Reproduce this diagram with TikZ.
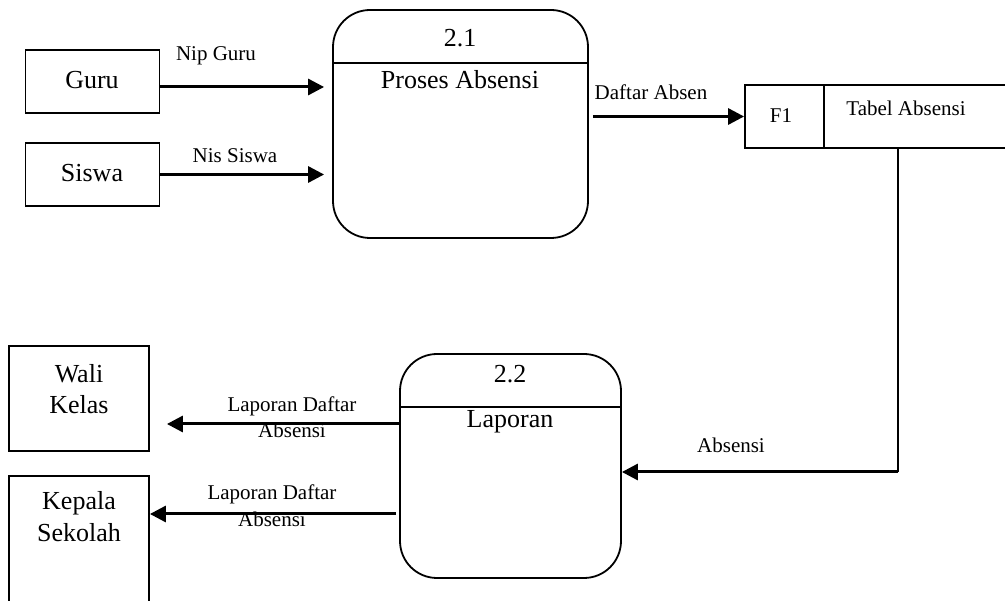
\documentclass[tikz,border=0pt]{standalone}
\usepackage{fontspec}
\setmainfont{Liberation Serif}
\usetikzlibrary{arrows.meta}
\tikzset{
  ent/.style={draw, line width=1.8pt, inner sep=0pt},
  proc/.style={draw, line width=1.8pt, rounded corners=37pt, inner sep=0pt},
  big/.style={font=\fontsize{26}{30}\selectfont, inner sep=0pt},
  small/.style={font=\fontsize{21}{24}\selectfont, inner sep=0pt, align=center},
  flow/.style={line width=3pt, -{Triangle[length=16pt,width=16pt]}},
  thin/.style={line width=1.8pt}
}
\begin{document}
\begin{tikzpicture}[x=1pt,y=-1pt]
\useasboundingbox (0,0) rectangle (1005,601);
\clip (0,0) rectangle (1005,601);
% entities
\node[ent, minimum width=134pt, minimum height=63pt] (guru) at (92.5,81.5) {};
\node[big] (gurut) at (92,80) {Guru};
\node[ent, minimum width=134pt, minimum height=63pt] (siswa) at (92.5,174.5) {};
\node[big] (siswat) at (92,173) {Siswa};
\node[ent, minimum width=140pt, minimum height=105pt] (wali) at (79,398.5) {};
\node[big] (walit1) at (79,374) {Wali};
\node[big] (walit2) at (79,405) {Kelas};
\node[ent, minimum width=140pt, minimum height=134pt] (kepala) at (79,543) {};
\node[big] (kept1) at (79,503) {Kepala};
\node[big] (kept2) at (79,533) {Sekolah};
% processes
\node[proc, minimum width=255pt, minimum height=228pt] (p1) at (460.5,124) {};
\coordinate (d1) at (0,63);
\draw[thin] (p1.west |- d1) -- (p1.east |- d1);
\node[big] (p1n) at (460,38) {2.1};
\node[big] (p1t) at (460,80) {Proses Absensi};
\node[proc, minimum width=221pt, minimum height=224pt] (p2) at (510.5,466) {};
\coordinate (d2) at (0,407);
\draw[thin] (p2.west |- d2) -- (p2.east |- d2);
\node[big] (p2n) at (510,374) {2.2};
\node[big] (p2t) at (510,422) {Laporan};
% data store
\node[ent, minimum width=270pt, minimum height=63pt] (ds) at (880,116.5) {};
\coordinate (dv) at (824,0);
\draw[thin] (ds.north -| dv) -- (ds.south -| dv);
\node[small] (dsf) at (781,116) {F1};
\node[small] (dst) at (906,108) {Tabel Absensi};
% flows
\draw[flow, shorten >=8pt] ([yshift=-5.5pt]guru.east) -- ([yshift=-5.5pt]guru.east -| p1.west);
\node[small] (l1) at (216,56) {Nip Guru};
\draw[flow, shorten >=8pt] (siswa.east) -- (siswa.east -| p1.west);
\node[small] (l2) at (235,156) {Nis Siswa};
\draw[flow, shorten <=4pt] (p1.east |- ds.west) -- (ds.west);
\node[small] (l3) at (651,92) {Daftar Absen};
\coordinate (c1) at (898,472);
\draw[thin] (ds.south -| c1) -- (c1);
\draw[flow] (c1) -- (c1 -| p2.east);
\node[small] (l4) at (731,445) {Absensi};
\coordinate (a1) at (0,424);
\draw[flow, shorten >=17pt] (p2.west |- a1) -- (wali.east |- a1);
\node[small] (l5a) at (292,406) {Laporan Daftar};
\node[small] (l5b) at (292,430) {Absensi};
\coordinate (a2) at (0,514);
\draw[flow] ([xshift=-3pt]p2.west |- a2) -- (kepala.east |- a2);
\node[small] (l6a) at (272,494) {Laporan Daftar};
\node[small] (l6b) at (272,519) {Absensi};
\end{tikzpicture}
\end{document}
